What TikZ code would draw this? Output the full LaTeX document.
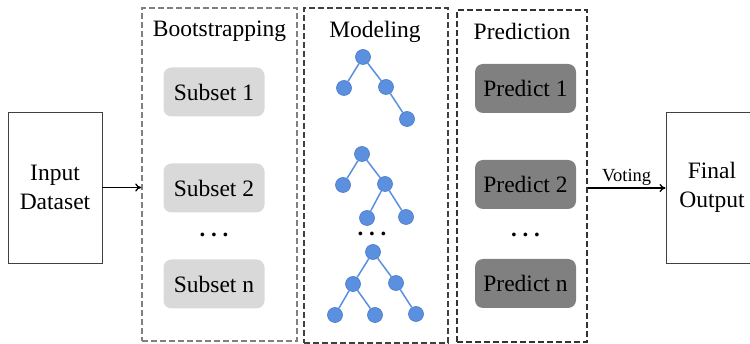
\documentclass[tikz,border=0pt]{standalone}
\usepackage{fontspec}
\setmainfont{Liberation Serif}
\usetikzlibrary{arrows.meta}
\definecolor{treeblue}{HTML}{5B8FE0}
\definecolor{treeedge}{HTML}{4A78C8}
\begin{document}
\begin{tikzpicture}[x=1pt,y=-1pt,
  txt/.style={font=\fontsize{23.5}{28.5}\selectfont},
  plainbox/.style={draw=black!75, line width=0.9pt, txt, align=center, inner sep=0pt},
  stagebox/.style={dashed, dash pattern=on 6pt off 3pt, line width=1.6pt},
  subsetbox/.style={fill=black!15, rounded corners=8pt, minimum width=101pt, minimum height=49pt, txt, inner sep=0pt},
  predbox/.style={fill=black!50, rounded corners=8pt, minimum width=101pt, minimum height=49pt, txt, inner sep=0pt},
  tn/.style={circle, fill=treeblue, draw=treeedge, line width=0.6pt, minimum size=15pt, inner sep=0pt},
  te/.style={treeblue, line width=1.5pt},
  arr/.style={-{To[length=6pt,width=8pt]}, line width=1.3pt, black},
  dotstxt/.style={font=\fontsize{23}{26}\selectfont\bfseries}
]
\useasboundingbox (0,0) rectangle (750,344);
\begin{scope}
\clip (0,0) rectangle (750,344);
% Input box
\node[plainbox, minimum width=94pt, minimum height=151pt] (in) at (55,187.5) {Input\\Dataset};
% Final output box (clipped at right)
\node[plainbox, minimum width=92pt, minimum height=151pt] (out) at (712,187.5) {Final\\Output};
\end{scope}

% stage boxes
\node[stagebox, draw=black!50, minimum width=155pt, minimum height=333pt, inner sep=0pt] (boot) at (219.5,174.5) {};
\node[stagebox, draw=black!75, minimum width=144pt, minimum height=335pt, inner sep=0pt] (model) at (376,175.5) {};
\node[stagebox, draw=black!80, minimum width=130pt, minimum height=332pt, inner sep=0pt] (pred) at (522,176) {};

\node[txt] (tboot) at (219.5,31) {Bootstrapping};
\node[txt] (tmodel) at (375,31.5) {Modeling};
\node[txt] (tpred) at (522,31) {Prediction};

% subsets
\node[subsetbox] (s1) at (214,92) {Subset 1};
\node[subsetbox] (s2) at (214,188) {Subset 2};
\node[dotstxt] (sd) at (214,235) {.\ .\ .};
\node[subsetbox] (sn) at (214,284) {Subset n};

% predictions
\node[predbox] (p1) at (525.5,88.5) {Predict 1};
\node[predbox] (p2) at (525.5,184.5) {Predict 2};
\node[dotstxt] (pd) at (525.5,235) {.\ .\ .};
\node[predbox] (pn) at (525.5,283.5) {Predict n};

% trees
\node[tn] (a0) at (363,57) {};
\node[tn] (a1) at (344,88) {};
\node[tn] (a2) at (386,87) {};
\node[tn] (a3) at (407,119) {};
\draw[te] (a0) -- (a1) (a0) -- (a2) (a2) -- (a3);

\node[tn] (b0) at (362,154) {};
\node[tn] (b1) at (343,185) {};
\node[tn] (b2) at (385,184) {};
\node[tn] (b3) at (367,218) {};
\node[tn] (b4) at (406,217) {};
\draw[te] (b0) -- (b1) (b0) -- (b2) (b2) -- (b3) (b2) -- (b4);

\node[dotstxt] (md) at (372,234) {.\ .\ .};

\node[tn] (c0) at (373,252) {};
\node[tn] (c1) at (353,284) {};
\node[tn] (c2) at (396,283) {};
\node[tn] (c3) at (335,315) {};
\node[tn] (c4) at (375,315) {};
\node[tn] (c5) at (416,314) {};
\draw[te] (c0) -- (c1) (c0) -- (c2) (c1) -- (c3) (c1) -- (c4) (c2) -- (c5);

% arrows
\draw[arr] (in.east) -- (boot.west |- in.east);
\coordinate (vstart) at (pred.east |- 0,188);
\draw[arr] (vstart) -- (out.west |- vstart) node[midway, above=-1pt, font=\fontsize{18.5}{22}\selectfont] {Voting};
\end{tikzpicture}
\end{document}
